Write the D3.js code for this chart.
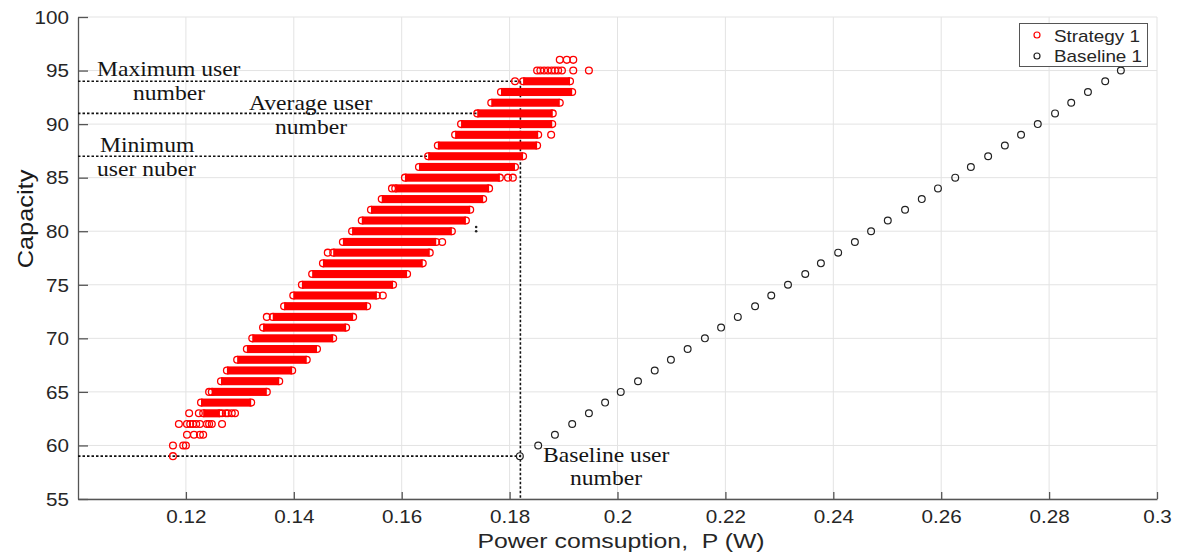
<!DOCTYPE html>
<html>
<head>
<meta charset="utf-8">
<script src="https://cdn.jsdelivr.net/npm/d3@7"></script>
<style>
  body { margin: 0; background: #fff; }
  svg { display: block; }
  text { white-space: pre; }
</style>
</head>
<body>
<svg id="chart" width="1180" height="555"></svg>
<script>
// ---- axis ticks ----
const xTicks = [0.12, 0.14, 0.16, 0.18, 0.2, 0.22, 0.24, 0.26, 0.28, 0.3];
const xTickLabels = ["0.12", "0.14", "0.16", "0.18", "0.2", "0.22", "0.24", "0.26", "0.28", "0.3"];
const yTicks = [55, 60, 65, 70, 75, 80, 85, 90, 95, 100];
const yTickLabels = ["55", "60", "65", "70", "75", "80", "85", "90", "95", "100"];

// ---- Baseline 1: one point per capacity ----
const baselineCapacity = [59, 60, 61, 62, 63, 64, 65, 66, 67, 68, 69, 70, 71, 72, 73, 74, 75, 76, 77,
  78, 79, 80, 81, 82, 83, 84, 85, 86, 87, 88, 89, 90, 91, 92, 93, 94, 95];
const baselinePower = [0.1819, 0.1853, 0.1884, 0.1916, 0.1947, 0.1977, 0.2006, 0.2038, 0.2069, 0.2099,
  0.2130, 0.2162, 0.2192, 0.2223, 0.2255, 0.2285, 0.2316, 0.2348, 0.2377, 0.2409, 0.2440, 0.2470,
  0.2501, 0.2533, 0.2564, 0.2594, 0.2626, 0.2655, 0.2687, 0.2718, 0.2748, 0.2779, 0.2811, 0.2841,
  0.2872, 0.2904, 0.2933];

// ---- Strategy 1: dense runs of points per capacity (min/max power of each run) ----
const runCapacity = [63, 64, 65, 66, 67, 68, 69, 70, 71, 72, 73, 74, 75, 76, 77, 78, 79, 80, 81,
  82, 83, 84, 85, 86, 87, 88, 89, 90, 91, 92, 93, 94];
const runMinPower = [0.1232, 0.1228, 0.1248, 0.1265, 0.1276, 0.1295, 0.1313, 0.1323, 0.1343, 0.1361,
  0.1382, 0.1399, 0.1415, 0.1434, 0.1454, 0.1473, 0.1491, 0.1508, 0.1526, 0.1543, 0.1563, 0.1588,
  0.1606, 0.1632, 0.1649, 0.1667, 0.1699, 0.1710, 0.1740, 0.1766, 0.1784, 0.1825];
const runMaxPower = [0.1263, 0.1321, 0.1350, 0.1373, 0.1397, 0.1424, 0.1443, 0.1473, 0.1497, 0.1510,
  0.1536, 0.1554, 0.1584, 0.1610, 0.1639, 0.1652, 0.1664, 0.1693, 0.1719, 0.1727, 0.1751, 0.1762,
  0.1782, 0.1810, 0.1825, 0.1851, 0.1853, 0.1879, 0.1880, 0.1893, 0.1916, 0.1912];

// ---- Strategy 1: isolated points ----
const pointCapacity = [59, 60, 60, 60, 61, 61, 61, 61,
  62, 62, 62, 62, 62, 62, 62, 62, 62, 62,
  63, 63, 63, 63, 63, 63, 63,
  65, 72, 74, 78, 79, 84, 85, 85, 89, 94,
  95, 95, 95, 95, 95, 95, 95, 95, 95, 95,
  96, 96, 96];
const pointPower = [0.1176, 0.1176, 0.1195, 0.1200, 0.1202, 0.1215, 0.1226, 0.1232,
  0.1187, 0.1202, 0.1208, 0.1213, 0.1219, 0.1226, 0.1239, 0.1243, 0.1248, 0.1267,
  0.1206, 0.1224, 0.1267, 0.1274, 0.1278, 0.1285, 0.1291,
  0.1243, 0.1350, 0.1565, 0.1463, 0.1675, 0.1582, 0.1797, 0.1806, 0.1877, 0.1810,
  0.1851, 0.1857, 0.1864, 0.1871, 0.1878, 0.1884, 0.1890, 0.1897, 0.1918, 0.1947,
  0.1893, 0.1906, 0.1918];

// small data-tip marks
const tipPower = [0.1738, 0.1738];
const tipCapacity = [80.4, 80.0];

// ---- reference levels ----
const refPower = 0.182;
const maxUsers = 94;
const avgUsers = 91;
const minUsers = 87;
const baseUsers = 59;

// ---- layout ----
const W = 1180, H = 555;
const margin = { top: 17, right: 23, bottom: 56, left: 78 };
const SX = 1.18; // horizontal text stretch

const svg = d3.select("#chart");
const x = d3.scaleLinear().domain([0.1, 0.3]).range([margin.left, W - margin.right]);
const y = d3.scaleLinear().domain([55, 100]).range([H - margin.bottom, margin.top]);

const sans = "'Liberation Sans', Arial, sans-serif";
const serif = "'Liberation Serif', 'Times New Roman', serif";

// grid
const grid = svg.append("g").attr("stroke", "#e3e3e3").attr("stroke-width", 1);
grid.selectAll("line.gx").data(xTicks).join("line")
  .attr("x1", d => x(d)).attr("x2", d => x(d))
  .attr("y1", y(55)).attr("y2", y(100));
grid.selectAll("line.gy").data(yTicks).join("line")
  .attr("x1", x(0.1)).attr("x2", x(0.3))
  .attr("y1", d => y(d)).attr("y2", d => y(d));

// axes
const xAxis = d3.axisBottom(x).tickValues(xTicks)
  .tickFormat((d, i) => xTickLabels[i]).tickSizeInner(-7).tickSizeOuter(0).tickPadding(0);
const gx = svg.append("g").attr("transform", `translate(0,${y(55)})`).call(xAxis);
gx.select(".domain").attr("stroke", "#555").attr("stroke-width", 1.3);
gx.selectAll(".tick line").attr("stroke", "#555").attr("stroke-width", 1.3);
gx.selectAll(".tick text").attr("y", 24).attr("dy", 0)
  .attr("font-family", sans).attr("font-size", 17.5).attr("fill", "#262626")
  .attr("transform", `scale(${SX},1)`);

const yAxis = d3.axisLeft(y).tickValues(yTicks)
  .tickFormat((d, i) => yTickLabels[i]).tickSizeInner(-10).tickSizeOuter(0).tickPadding(0);
const gy = svg.append("g").attr("transform", `translate(${x(0.1)},0)`).call(yAxis);
gy.select(".domain").attr("stroke", "#555").attr("stroke-width", 1.3);
gy.selectAll(".tick line").attr("stroke", "#555").attr("stroke-width", 1.3);
gy.selectAll(".tick text").attr("x", -9 / SX).attr("dy", "0.36em")
  .attr("font-family", sans).attr("font-size", 17.5).attr("fill", "#262626")
  .attr("transform", `scale(${SX},1)`);

// helper for stretched text
function label(str, px, py, opts) {
  return svg.append("text")
    .attr("transform", `translate(${px},${py}) scale(${SX},1)`)
    .attr("text-anchor", opts.anchor || "start")
    .attr("font-family", opts.font || sans)
    .attr("font-size", opts.size)
    .attr("fill", opts.fill || "#262626")
    .attr("xml:space", "preserve")
    .text(str);
}

// axis titles
label("Power comsuption,  P (W)", 621, 548, { anchor: "middle", size: 21 });
svg.append("text")
  .attr("transform", `translate(33,219) rotate(-90) scale(${SX},1)`)
  .attr("text-anchor", "middle")
  .attr("font-family", sans).attr("font-size", 21.5).attr("fill", "#1a1a1a")
  .text("Capacity");

// reference dotted lines
const refG = svg.append("g").attr("stroke", "#111").attr("stroke-width", 1.6)
  .attr("stroke-dasharray", "2.5,2").attr("fill", "none");
[maxUsers, avgUsers, minUsers, baseUsers].forEach(v => {
  refG.append("line").attr("x1", x(0.1)).attr("x2", x(refPower))
    .attr("y1", y(v)).attr("y2", y(v));
});
refG.append("line").attr("x1", x(refPower)).attr("x2", x(refPower))
  .attr("y1", y(maxUsers)).attr("y2", y(55));

// Strategy 1 marks
const R = 3.4;
const red = "#ff0000";
const sG = svg.append("g");
const runs = runCapacity.map((c, i) => ({ c, lo: runMinPower[i], hi: runMaxPower[i] }));
// rings at run ends
sG.selectAll("circle.end").data(runs.flatMap(r => [{ c: r.c, p: r.lo }, { c: r.c, p: r.hi }]))
  .join("circle")
  .attr("cx", d => x(d.p)).attr("cy", d => y(d.c)).attr("r", R)
  .attr("fill", "none").attr("stroke", red).attr("stroke-width", 1.3);
// filled body of each dense run
sG.selectAll("rect.run").data(runs).join("rect")
  .attr("x", d => x(d.lo)).attr("width", d => x(d.hi) - x(d.lo))
  .attr("y", d => y(d.c) - R - 0.65).attr("height", 2 * R + 1.3)
  .attr("fill", red);
// isolated points
sG.selectAll("circle.pt").data(pointCapacity.map((c, i) => ({ c, p: pointPower[i] })))
  .join("circle")
  .attr("cx", d => x(d.p)).attr("cy", d => y(d.c)).attr("r", R)
  .attr("fill", "none").attr("stroke", red).attr("stroke-width", 1.3);

// Baseline 1 marks
svg.append("g").selectAll("circle")
  .data(baselineCapacity.map((c, i) => ({ c, p: baselinePower[i] })))
  .join("circle")
  .attr("cx", d => x(d.p)).attr("cy", d => y(d.c)).attr("r", R)
  .attr("fill", "none").attr("stroke", "#222").attr("stroke-width", 1.2);

// data-tip marks
svg.append("g").selectAll("circle")
  .data(tipPower.map((p, i) => ({ p, c: tipCapacity[i] })))
  .join("circle")
  .attr("cx", d => x(d.p)).attr("cy", d => y(d.c)).attr("r", 1.3).attr("fill", "#222");

// annotations
const ann = { font: serif, size: 20, fill: "#141414" };
label("Maximum user", 97, 76, ann);
label("number", 133, 100, ann);
label("Average user", 249, 110, ann);
label("number", 275, 134, ann);
label("Minimum", 100, 152, ann);
label("user nuber", 97, 176, ann);
label("Baseline user", 543, 462, ann);
label("number", 570, 485, ann);

// legend
const lg = svg.append("g");
lg.append("rect").attr("x", 1019.5).attr("y", 23.5).attr("width", 128).attr("height", 43)
  .attr("fill", "#fff").attr("stroke", "#555").attr("stroke-width", 1);
lg.append("circle").attr("cx", 1037).attr("cy", 35).attr("r", 3)
  .attr("fill", "none").attr("stroke", red).attr("stroke-width", 1.2);
lg.append("circle").attr("cx", 1037).attr("cy", 56).attr("r", 3)
  .attr("fill", "none").attr("stroke", "#222").attr("stroke-width", 1.2);
label("Strategy 1", 1054, 41.5, { size: 16 });
label("Baseline 1", 1054, 62, { size: 16 });
</script>
</body>
</html>
